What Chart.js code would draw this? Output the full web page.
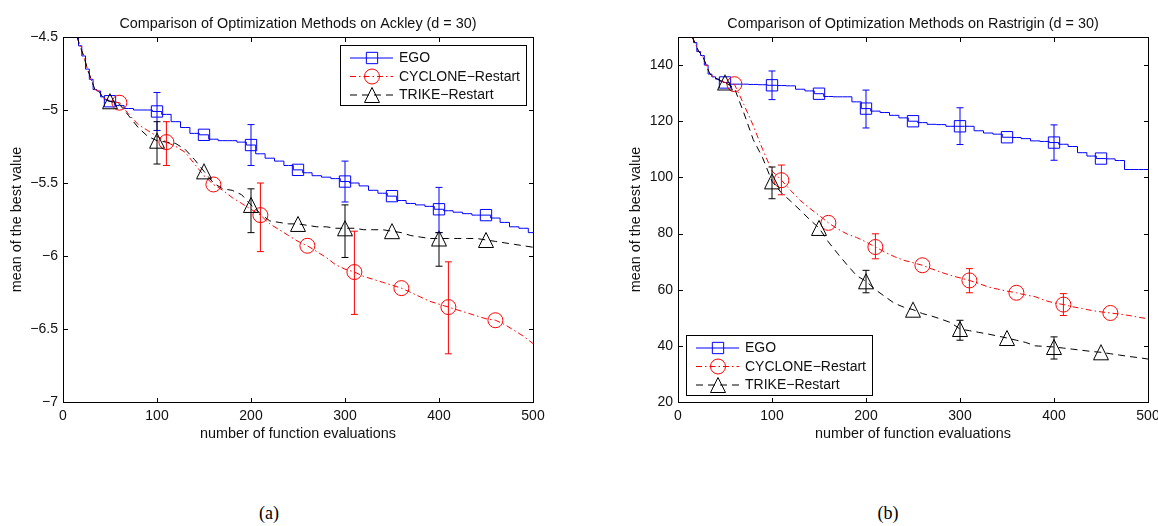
<!DOCTYPE html>
<html>
<head>
<meta charset="utf-8">
<script src="https://cdn.jsdelivr.net/npm/chart.js@4.4.0/dist/chart.umd.min.js"></script>
<style>
  body { margin: 0; background: #fff; width: 1158px; height: 526px; position: relative; overflow: hidden; }
  .panel { position: absolute; top: 0; width: 579px; height: 470px; }
  .caption { position: absolute; top: 503px; width: 40px; margin-left: -20px; text-align: center;
             font: 18px "Liberation Serif", "DejaVu Serif", serif; color: #000; }
</style>
</head>
<body>
<div class="panel" style="left:0"><canvas id="ackley" width="579" height="470"></canvas></div>
<div class="panel" style="left:579px"><canvas id="rastrigin" width="579" height="470"></canvas></div>
<div class="caption" style="left:269px">(a)</div>
<div class="caption" style="left:888px">(b)</div>

<script>
// number of function evaluations at which the running best value is sampled
const evals = [15, 18, 22, 26, 30, 34, 38, 42, 46, 50,
  60, 70, 80, 90, 100, 110, 120, 130, 140, 150,
  160, 170, 180, 190, 200, 210, 220, 230, 240, 250,
  260, 270, 280, 290, 300, 310, 320, 330, 340, 350,
  360, 370, 380, 390, 400, 410, 420, 430, 440, 450,
  460, 470, 480, 490, 500];

const methods = ['EGO', 'CYCLONE\u2212Restart', 'TRIKE\u2212Restart'];

// where each method puts its markers and its error bars
const egoMarkX = [50, 100, 150, 200, 250, 300, 350, 400, 450];
const cycloneMarkX = [60, 110, 160, 210, 260, 310, 360, 410, 460];
const trikeMarkX = [50, 100, 150, 200, 250, 300, 350, 400, 450];
const egoErrX = [100, 200, 300, 400];
const cycloneErrX = [110, 210, 310, 410];
const trikeErrX = [100, 200, 300, 400];

// Ackley, d = 30
const ackleyEgo = [-4.50, -4.56, -4.63, -4.72, -4.79, -4.86, -4.87, -4.91, -4.93, -4.94,
  -4.97, -4.99, -5.00, -5.00, -5.01, -5.03, -5.08, -5.12, -5.16, -5.17,
  -5.20, -5.21, -5.21, -5.22, -5.24, -5.30, -5.33, -5.35, -5.38, -5.41,
  -5.43, -5.45, -5.46, -5.47, -5.49, -5.50, -5.52, -5.55, -5.57, -5.59,
  -5.62, -5.64, -5.65, -5.66, -5.68, -5.69, -5.70, -5.71, -5.72, -5.72,
  -5.74, -5.77, -5.80, -5.81, -5.84];
const ackleyCyclone = [-4.50, -4.56, -4.63, -4.72, -4.79, -4.86, -4.87, -4.91, -4.93, -4.94,
  -4.95, -5.03, -5.10, -5.14, -5.18, -5.22, -5.25, -5.29, -5.37, -5.45,
  -5.51, -5.55, -5.60, -5.64, -5.68, -5.72, -5.78, -5.82, -5.86, -5.90,
  -5.93, -5.97, -6.01, -6.06, -6.09, -6.11, -6.14, -6.16, -6.18, -6.20,
  -6.22, -6.25, -6.28, -6.31, -6.33, -6.35, -6.37, -6.39, -6.41, -6.43,
  -6.44, -6.47, -6.51, -6.55, -6.60];
const ackleyTrike = [-4.50, -4.56, -4.63, -4.72, -4.79, -4.86, -4.87, -4.91, -4.93, -4.94,
  -4.96, -5.04, -5.12, -5.18, -5.21, -5.22, -5.23, -5.27, -5.34, -5.42,
  -5.50, -5.54, -5.55, -5.58, -5.65, -5.71, -5.76, -5.77, -5.78, -5.78,
  -5.79, -5.80, -5.80, -5.81, -5.81, -5.81, -5.82, -5.82, -5.82, -5.83,
  -5.84, -5.86, -5.87, -5.88, -5.88, -5.88, -5.88, -5.88, -5.88, -5.89,
  -5.90, -5.91, -5.92, -5.93, -5.94];
const ackleyEgoLow = [-5.14, -5.38, -5.63, -5.84];
const ackleyEgoHigh = [-4.88, -5.10, -5.35, -5.53];
const ackleyCycloneLow = [-5.38, -5.97, -6.40, -6.67];
const ackleyCycloneHigh = [-5.08, -5.50, -5.83, -6.04];
const ackleyTrikeLow = [-5.37, -5.84, -6.01, -6.07];
const ackleyTrikeHigh = [-5.08, -5.54, -5.65, -5.84];
const ackleyYTicks = [-7, -6.5, -6, -5.5, -5, -4.5];

// Rastrigin, d = 30
const rastriginEgo = [150.0, 148.0, 144.8, 143.4, 140.0, 136.8, 135.8, 135.0, 134.3, 133.8,
  133.2, 133.2, 133.1, 133.0, 132.8, 132.7, 132.6, 131.4, 130.8, 129.8,
  128.8, 128.7, 128.7, 126.9, 124.5, 123.6, 123.1, 122.1, 121.2, 120.0,
  119.5, 118.9, 118.8, 118.2, 118.2, 118.2, 116.6, 115.8, 115.4, 114.3,
  114.2, 113.8, 113.0, 112.8, 112.4, 111.8, 111.0, 108.8, 107.6, 106.7,
  106.6, 106.0, 102.8, 102.8, 102.8];
const rastriginCyclone = [150.0, 148.0, 144.8, 143.4, 140.0, 136.8, 135.8, 135.0, 134.3, 133.8,
  133.2, 126.0, 118.5, 110.0, 102.3, 99.0, 95.3, 91.8, 89.0, 86.5,
  83.8, 81.6, 79.8, 78.6, 77.0, 75.2, 73.4, 71.8, 70.5, 69.6,
  68.7, 67.4, 66.2, 65.1, 64.2, 63.3, 62.2, 61.0, 60.2, 59.5,
  58.9, 58.1, 57.5, 56.2, 55.3, 54.7, 53.9, 53.3, 52.6, 52.1,
  51.7, 51.3, 50.8, 50.2, 49.6];
const rastriginTrike = [150.0, 148.0, 144.8, 143.4, 140.0, 136.8, 135.8, 135.0, 134.3, 133.8,
  131.8, 123.0, 113.5, 107.0, 98.6, 94.5, 91.5, 88.3, 85.0, 82.0,
  77.0, 72.8, 68.8, 65.0, 63.0, 60.0, 57.6, 55.2, 53.8, 52.9,
  51.5, 50.6, 49.5, 48.3, 46.0, 45.4, 44.8, 44.2, 43.5, 42.8,
  42.0, 41.2, 40.0, 39.8, 39.6, 39.2, 38.8, 38.4, 38.0, 37.7,
  37.2, 36.7, 36.2, 35.8, 35.3];
const rastriginEgoLow = [127.7, 117.6, 111.7, 106.1];
const rastriginEgoHigh = [137.9, 131.1, 124.8, 118.7];
const rastriginCycloneLow = [93.8, 71.0, 58.9, 50.8];
const rastriginCycloneHigh = [104.4, 79.9, 67.5, 58.6];
const rastriginTrikeLow = [92.4, 58.9, 42.0, 35.3];
const rastriginTrikeHigh = [103.7, 66.9, 49.1, 43.2];
const rastriginYTicks = [20, 40, 60, 80, 100, 120, 140];

const xTicks = [0, 100, 200, 300, 400, 500];

const FONT = '"Liberation Sans", Arial, Helvetica, sans-serif';
const INK = '#111';

// open triangle as tall as it is wide, centred on its bounding box
function triangleMarker(color) {
  const c = document.createElement('canvas');
  c.width = 18; c.height = 18;
  const g = c.getContext('2d');
  g.strokeStyle = color;
  g.lineWidth = 1;
  g.beginPath();
  g.moveTo(9, 1.5);
  g.lineTo(16.5, 16.5);
  g.lineTo(1.5, 16.5);
  g.closePath();
  g.stroke();
  return c;
}

// line style + marker of each method, shared by the plot and the legend
const styles = [
  { color: '#0000ff', dash: [], marker: 'rect', radius: 8, stepped: 'middle' },
  { color: '#ff0000', dash: [6, 3, 1.5, 3], marker: 'circle', radius: 7.5, stepped: false },
  { color: '#000000', dash: [7, 5], marker: triangleMarker('#000000'), radius: 8.5, stepped: false }
];

const toPoints = vals => evals.map((x, i) => ({ x, y: vals[i] }));
const pick = (vals, xs) => xs.map(x => ({ x, y: vals[evals.indexOf(x)] }));

// boxed axes with inward ticks on all four sides
const axesBox = {
  id: 'axesBox',
  afterDraw(chart) {
    const { ctx, chartArea: a, scales } = chart;
    const L = Math.round(a.left) + 0.5, R = Math.round(a.right) + 0.5;
    const T = Math.round(a.top) + 0.5, B = Math.round(a.bottom) + 0.5;
    const len = 4.5;
    ctx.save();
    ctx.strokeStyle = '#000';
    ctx.lineWidth = 1;
    ctx.setLineDash([]);
    ctx.beginPath();
    scales.x.ticks.forEach(t => {
      const px = Math.round(scales.x.getPixelForValue(t.value)) + 0.5;
      ctx.moveTo(px, B); ctx.lineTo(px, B - len);
      ctx.moveTo(px, T); ctx.lineTo(px, T + len);
    });
    scales.y.ticks.forEach(t => {
      const py = Math.round(scales.y.getPixelForValue(t.value)) + 0.5;
      ctx.moveTo(L, py); ctx.lineTo(L + len, py);
      ctx.moveTo(R, py); ctx.lineTo(R - len, py);
    });
    ctx.stroke();
    ctx.strokeRect(L, T, R - L, B - T);
    ctx.restore();
  }
};

// vertical error bars with small caps
const errorBars = {
  id: 'errorBars',
  afterDatasetsDraw(chart, args, opts) {
    const { ctx, scales } = chart;
    ctx.save();
    ctx.lineWidth = 1;
    ctx.setLineDash([]);
    opts.sets.forEach(set => {
      ctx.strokeStyle = set.color;
      ctx.beginPath();
      set.x.forEach((x, i) => {
        const px = scales.x.getPixelForValue(x);
        const lo = scales.y.getPixelForValue(set.low[i]);
        const hi = scales.y.getPixelForValue(set.high[i]);
        ctx.moveTo(px, lo); ctx.lineTo(px, hi);
        ctx.moveTo(px - 3.5, lo); ctx.lineTo(px + 3.5, lo);
        ctx.moveTo(px - 3.5, hi); ctx.lineTo(px + 3.5, hi);
      });
      ctx.stroke();
    });
    ctx.restore();
  }
};

// legend box with a line sample and marker for each method
const boxLegend = {
  id: 'boxLegend',
  afterDraw(chart, args, opts) {
    const { ctx, chartArea: a } = chart;
    const w = 186, h = 60;
    const x0 = Math.round(opts.corner === 'ne' ? a.right - 7.5 - w : a.left + 7.5) + 0.5;
    const y0 = Math.round(opts.corner === 'ne' ? a.top + 7.5 : a.bottom - 7.5 - h) + 0.5;
    ctx.save();
    ctx.fillStyle = '#fff';
    ctx.fillRect(x0, y0, w, h);
    ctx.strokeStyle = '#000';
    ctx.lineWidth = 1;
    ctx.strokeRect(x0, y0, w, h);
    ctx.font = '14px ' + FONT;
    ctx.textBaseline = 'middle';
    methods.forEach((name, i) => {
      const s = styles[i];
      const y = y0 + 12.5 + i * 18.5;
      ctx.strokeStyle = s.color;
      ctx.setLineDash(s.dash);
      ctx.beginPath();
      ctx.moveTo(x0 + 9.5, y); ctx.lineTo(x0 + 52.5, y);
      ctx.stroke();
      ctx.setLineDash([]);
      ctx.fillStyle = 'rgba(0,0,0,0)';
      Chart.helpers.drawPoint(ctx, { pointStyle: s.marker, radius: s.radius, borderWidth: 1, rotation: 0 }, x0 + 31.5, y);
      ctx.fillStyle = INK;
      ctx.fillText(name, x0 + 58.5, y + 0.5);
    });
    ctx.restore();
  }
};

// title and axis labels placed around the plot area
const frameText = {
  id: 'frameText',
  afterDraw(chart, args, opts) {
    const { ctx, chartArea: a } = chart;
    const cx = (a.left + a.right) / 2;
    ctx.save();
    ctx.fillStyle = INK;
    ctx.font = '14.4px ' + FONT;
    ctx.textAlign = 'center';
    ctx.textBaseline = 'alphabetic';
    ctx.fillText(opts.title, cx, a.top - 9.5);
    ctx.fillText(opts.xLabel, cx, a.bottom + 35.5);
    ctx.translate(a.left + opts.yLabelOffset, (a.top + a.bottom) / 2);
    ctx.rotate(-Math.PI / 2);
    ctx.textBaseline = 'middle';
    ctx.fillText(opts.yLabel, 0, 0);
    ctx.restore();
  }
};

function buildChart(id, cfg) {
  const lines = [cfg.ego, cfg.cyclone, cfg.trike];
  const markX = [egoMarkX, cycloneMarkX, trikeMarkX];
  const errX = [egoErrX, cycloneErrX, trikeErrX];
  const datasets = [];
  lines.forEach((vals, i) => {
    const s = styles[i];
    datasets.push({
      label: methods[i],
      data: toPoints(vals),
      borderColor: s.color,
      borderWidth: 1,
      borderDash: s.dash,
      stepped: s.stepped,
      pointRadius: 0,
      tension: 0,
      fill: false,
      order: 2 - i
    });
    datasets.push({
      label: methods[i] + ' markers',
      data: pick(vals, markX[i]),
      showLine: false,
      pointStyle: s.marker,
      pointRadius: s.radius,
      pointBorderWidth: 1,
      pointBorderColor: s.color,
      pointBackgroundColor: 'rgba(0,0,0,0)',
      order: 2 - i
    });
  });

  const tickFont = { family: FONT, size: 14 };
  return new Chart(document.getElementById(id), {
    type: 'line',
    data: { datasets },
    plugins: [errorBars, axesBox, boxLegend, frameText],
    options: {
      responsive: false,
      animation: false,
      events: [],
      layout: { padding: cfg.padding },
      scales: {
        x: {
          type: 'linear',
          min: 0, max: 500,
          grid: { display: false, drawTicks: false },
          border: { display: false },
          afterBuildTicks: s => { s.ticks = xTicks.map(v => ({ value: v })); },
          afterFit: s => { s.height = 30; s.paddingLeft = 0; s.paddingRight = 0; },
          ticks: { font: tickFont, color: INK, padding: 6, maxRotation: 0 }
        },
        y: {
          type: 'linear',
          min: cfg.yMin, max: cfg.yMax,
          grid: { display: false, drawTicks: false },
          border: { display: false },
          afterBuildTicks: s => { s.ticks = cfg.yTicks.map(v => ({ value: v })); },
          afterFit: s => { s.width = 63; s.paddingTop = 0; s.paddingBottom = 0; },
          ticks: {
            font: tickFont, color: INK, padding: 5,
            callback: v => String(v).replace('-', '\u2212')
          }
        }
      },
      plugins: {
        legend: { display: false },
        tooltip: { enabled: false },
        errorBars: {
          sets: [
            { color: styles[0].color, x: errX[0], low: cfg.egoLow, high: cfg.egoHigh },
            { color: styles[1].color, x: errX[1], low: cfg.cycloneLow, high: cfg.cycloneHigh },
            { color: styles[2].color, x: errX[2], low: cfg.trikeLow, high: cfg.trikeHigh }
          ]
        },
        boxLegend: { corner: cfg.legendCorner },
        frameText: {
          title: cfg.title,
          xLabel: 'number of function evaluations',
          yLabel: 'mean of the best value',
          yLabelOffset: cfg.yLabelOffset
        }
      }
    }
  });
}

buildChart('ackley', {
  ego: ackleyEgo, cyclone: ackleyCyclone, trike: ackleyTrike,
  egoLow: ackleyEgoLow, egoHigh: ackleyEgoHigh,
  cycloneLow: ackleyCycloneLow, cycloneHigh: ackleyCycloneHigh,
  trikeLow: ackleyTrikeLow, trikeHigh: ackleyTrikeHigh,
  yMin: -7, yMax: -4.5, yTicks: ackleyYTicks,
  title: 'Comparison of Optimization Methods on Ackley (d = 30)',
  legendCorner: 'ne',
  yLabelOffset: -45.5,
  padding: { left: 0, right: 46, top: 37, bottom: 38 }
});

buildChart('rastrigin', {
  ego: rastriginEgo, cyclone: rastriginCyclone, trike: rastriginTrike,
  egoLow: rastriginEgoLow, egoHigh: rastriginEgoHigh,
  cycloneLow: rastriginCycloneLow, cycloneHigh: rastriginCycloneHigh,
  trikeLow: rastriginTrikeLow, trikeHigh: rastriginTrikeHigh,
  yMin: 20, yMax: 150, yTicks: rastriginYTicks,
  title: 'Comparison of Optimization Methods on Rastrigin (d = 30)',
  legendCorner: 'sw',
  yLabelOffset: -42,
  padding: { left: 36, right: 10, top: 37, bottom: 38 }
});
</script>
</body>
</html>
